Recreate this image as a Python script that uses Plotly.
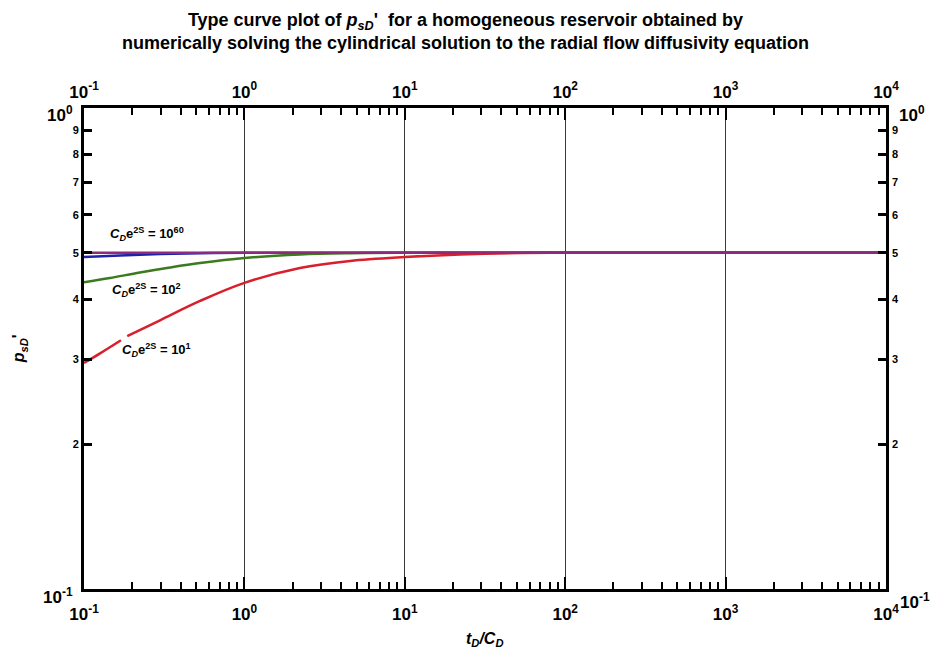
import math
import plotly.graph_objects as go

# Dimensionless time t_D/C_D and derivative p_sD' for each C_D e^{2S} curve
t_c1 = [0.1, 0.126, 0.17, None, 0.186, 0.298, 0.529, 1.0, 2.22, 4.56, 10.0, 22.1, 52.3,
        100.0, 1000.0, 10000.0]
p_c1 = [0.295, 0.309, 0.329, None, 0.3355, 0.362, 0.397, 0.433, 0.465, 0.481, 0.490,
        0.496, 0.4995, 0.5, 0.5, 0.5]

t_c2 = [0.1, 0.145, 0.223, 0.344, 0.529, 1.0, 2.22, 4.56, 9.3, 100.0, 10000.0]
p_c2 = [0.434, 0.443, 0.455, 0.466, 0.476, 0.4876, 0.496, 0.499, 0.5, 0.5, 0.5]

t_c60 = [0.1, 0.168, 0.298, 0.529, 1.0, 10.0, 10000.0]
p_c60 = [0.490, 0.4934, 0.497, 0.4992, 0.5, 0.5, 0.5]

t_ref = [0.1, 10000.0]
p_ref = [0.5, 0.5]

x_tickvals = [0.1, 1, 10, 100, 1000, 10000]
x_ticktext = ["10<sup>-1</sup>", "10<sup>0</sup>", "10<sup>1</sup>", "10<sup>2</sup>",
              "10<sup>3</sup>", "10<sup>4</sup>"]
x_minor = [m * 10 ** e for e in range(-1, 4) for m in range(2, 10)]

y_tickvals = [0.2, 0.3, 0.4, 0.5, 0.6, 0.7, 0.8, 0.9]
y_ticktext = ["2", "3", "4", "5", "6", "7", "8", "9"]

FONT = "Arial, Liberation Sans, sans-serif"
BOLD17 = dict(size=17, family=FONT, color="black", weight="bold")
BOLD11 = dict(size=11, family=FONT, color="black", weight="bold")

fig = go.Figure()
fig.add_trace(go.Scatter(x=t_c1, y=p_c1, mode="lines", connectgaps=False,
                         line=dict(color="#d81f2c", width=2.5, shape="spline",
                                   smoothing=1.0)))
fig.add_trace(go.Scatter(x=t_c2, y=p_c2, mode="lines",
                         line=dict(color="#3c7a1e", width=2.5, shape="spline",
                                   smoothing=1.0)))
fig.add_trace(go.Scatter(x=t_c60, y=p_c60, mode="lines",
                         line=dict(color="#2020a8", width=2.5, shape="spline",
                                   smoothing=1.0)))
# flat reference curve, drawn on the mirrored (top/right) axes
fig.add_trace(go.Scatter(x=t_ref, y=p_ref, mode="lines", xaxis="x2", yaxis="y2",
                         line=dict(color="#8e2a7c", width=2.5)))

axis_common = dict(type="log", showline=True, linewidth=3, linecolor="black",
                   mirror="ticks", ticks="inside", tickcolor="black", zeroline=False)

fig.update_layout(
    width=931, height=661,
    margin=dict(l=84, r=45, t=108, b=72),
    paper_bgcolor="white", plot_bgcolor="white",
    showlegend=False,
    font=dict(family=FONT, color="black"),
    title=dict(
        text="Type curve plot of <i>p<sub>sD</sub></i>'  for a homogeneous reservoir obtained by"
             "<br>numerically solving the cylindrical solution to the radial flow diffusivity equation",
        x=0.5, xanchor="center", y=0.961, yanchor="middle",
        font=dict(size=18, family=FONT, color="black", weight="bold"),
    ),
    xaxis=dict(**axis_common, range=[-1, 4], tickvals=x_tickvals, ticktext=x_ticktext,
               ticklen=12, tickwidth=2, ticklabelstandoff=8, tickfont=BOLD17,
               showgrid=True, gridcolor="#3a3a3a", gridwidth=1,
               minor=dict(tickvals=x_minor, ticks="inside", ticklen=7, tickwidth=2,
                          tickcolor="black", showgrid=False)),
    xaxis2=dict(type="log", range=[-1, 4], overlaying="x", side="top", anchor="y2",
                tickvals=x_tickvals, ticktext=x_ticktext, ticks="", showline=False,
                showgrid=False, zeroline=False, ticklabelstandoff=6, tickfont=BOLD17),
    yaxis=dict(**axis_common, range=[-1, 0], tickvals=y_tickvals, ticktext=y_ticktext,
               ticklen=8, tickwidth=3, showgrid=False, tickfont=BOLD11),
    yaxis2=dict(type="log", range=[-1, 0], overlaying="y", side="right", anchor="x2",
                tickvals=y_tickvals, ticktext=y_ticktext, ticks="", showline=False,
                showgrid=False, zeroline=False, ticklabelstandoff=5, tickfont=BOLD11),
)

# Decade labels on the left and right value axes
for txt, xp, yp, anchor in [("10<sup>0</sup>", -0.011, 0.9875, "right"),
                            ("10<sup>-1</sup>", -0.011, -0.015, "right"),
                            ("10<sup>0</sup>", 1.0137, 0.988, "left"),
                            ("10<sup>-1</sup>", 1.015, -0.024, "left")]:
    fig.add_annotation(x=xp, y=yp, xref="paper", yref="paper", text=txt, showarrow=False,
                       xanchor=anchor, yanchor="middle", font=BOLD17)

# Curve labels
lab = "<i>C<sub>D</sub></i>e<sup>2S</sup> = 10<sup>{}</sup>"
for txt, tx, py in [("60", 0.141, 0.547), ("2", 0.145, 0.419), ("1", 0.168, 0.314)]:
    fig.add_annotation(x=math.log10(tx), y=math.log10(py),
                       xref="x", yref="y", text=lab.format(txt), showarrow=False,
                       xanchor="left", yanchor="middle",
                       font=dict(size=13, family=FONT, color="black", weight="bold"))

# Axis titles
fig.add_annotation(x=0.5, y=-0.106, xref="paper", yref="paper",
                   text="<i>t<sub>D</sub>/C<sub>D</sub></i>", showarrow=False,
                   xanchor="center", yanchor="middle",
                   font=dict(size=16, family=FONT, color="black", weight="bold"))
fig.add_annotation(x=-0.08, y=0.5, xref="paper", yref="paper",
                   text="<i>p<sub>sD</sub></i>'", showarrow=False, textangle=-90,
                   xanchor="center", yanchor="middle",
                   font=dict(size=16, family=FONT, color="black", weight="bold"))

fig.write_html("out.html")
